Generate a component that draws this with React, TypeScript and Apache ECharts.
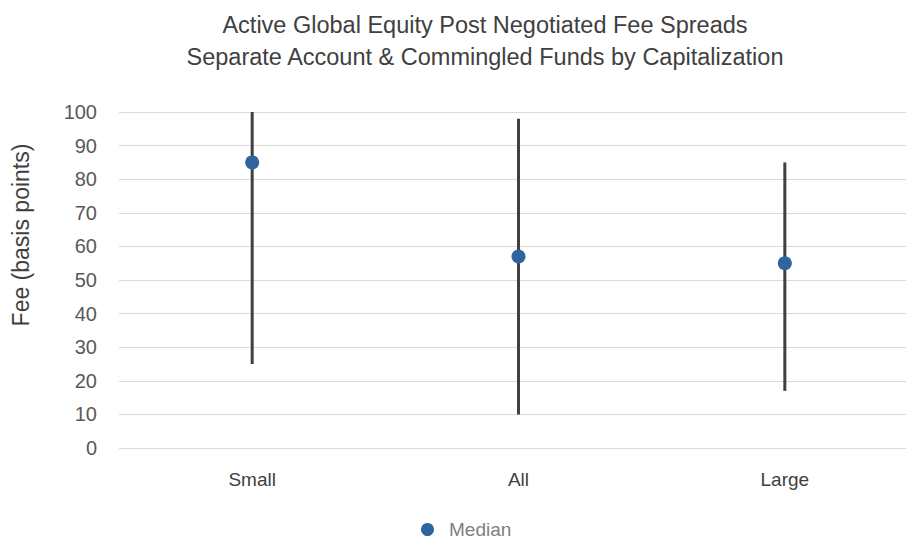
import React, { useEffect, useRef } from "react";
import * as echarts from "echarts";

const categories = ["Small", "All", "Large"];
const lowValues = [25, 10, 17];
const highValues = [100, 98, 85];
const medianValues = [85, 57, 55];
const yTicks = { min: 0, max: 100, interval: 10 };

const titleText =
  "Active Global Equity Post Negotiated Fee Spreads\nSeparate Account & Commingled Funds by Capitalization";
const yAxisTitle = "Fee (basis points)";

export default function App() {
  const ref = useRef<HTMLDivElement>(null);

  useEffect(() => {
    if (!ref.current) return;
    const chart = echarts.init(ref.current, undefined, { renderer: "svg" });
    const font = "'Liberation Sans', Arial, sans-serif";
    const rangeData = categories.map((_, i) => [i, lowValues[i], highValues[i]]);

    chart.setOption({
      animation: false,
      backgroundColor: "#ffffff",
      textStyle: { fontFamily: font },
      title: {
        text: titleText,
        left: 480,
        top: 4,
        textAlign: "center",
        textStyle: {
          fontFamily: font,
          fontSize: 23.5,
          fontWeight: "normal",
          color: "#404040",
          lineHeight: 32,
        },
      },
      legend: {
        data: ["Median"],
        left: 421,
        top: 520,
        padding: 0,
        icon: "circle",
        itemWidth: 13,
        itemHeight: 13,
        itemGap: 10,
        textStyle: {
          fontFamily: font,
          fontSize: 19,
          lineHeight: 18,
          color: "#7f7f7f",
          padding: [0, 0, 0, 10],
        },
      },
      grid: { left: 119, top: 112, width: 799, height: 336, containLabel: false },
      xAxis: {
        type: "category",
        data: categories,
        boundaryGap: true,
        axisLine: { show: false },
        axisTick: { show: false },
        axisLabel: { margin: 22, fontSize: 19, color: "#404040", fontFamily: font },
        splitLine: { show: false },
      },
      yAxis: {
        type: "value",
        min: yTicks.min,
        max: yTicks.max,
        interval: yTicks.interval,
        axisLine: { show: false },
        axisTick: { show: false },
        axisLabel: { margin: 22, fontSize: 20, color: "#595959", fontFamily: font },
        splitLine: { lineStyle: { color: "#d9d9d9", width: 1.2 } },
      },
      graphic: [
        {
          type: "text",
          x: 21,
          y: 235,
          rotation: Math.PI / 2,
          style: {
            text: yAxisTitle,
            fontFamily: font,
            fontSize: 23,
            fill: "#404040",
            textAlign: "center",
            textVerticalAlign: "middle",
          },
        },
      ],
      series: [
        {
          name: "Range",
          type: "custom",
          data: rangeData,
          encode: { x: 0, y: [1, 2] },
          renderItem: (params: any, api: any) => {
            const idx = api.value(0);
            const lo = api.coord([idx, api.value(1)]);
            const hi = api.coord([idx, api.value(2)]);
            return {
              type: "line",
              shape: { x1: lo[0], y1: lo[1], x2: hi[0], y2: hi[1] },
              style: { stroke: "#404040", lineWidth: 3 },
            };
          },
          z: 2,
        },
        {
          name: "Median",
          type: "scatter",
          data: medianValues,
          symbol: "circle",
          symbolSize: 14,
          itemStyle: { color: "#2e65a0", opacity: 1 },
          z: 3,
        },
      ],
    });

    return () => chart.dispose();
  }, []);

  return (
    <div
      ref={ref}
      style={{ position: "fixed", left: 0, top: 0, width: 920, height: 539, background: "#fff" }}
    />
  );
}
